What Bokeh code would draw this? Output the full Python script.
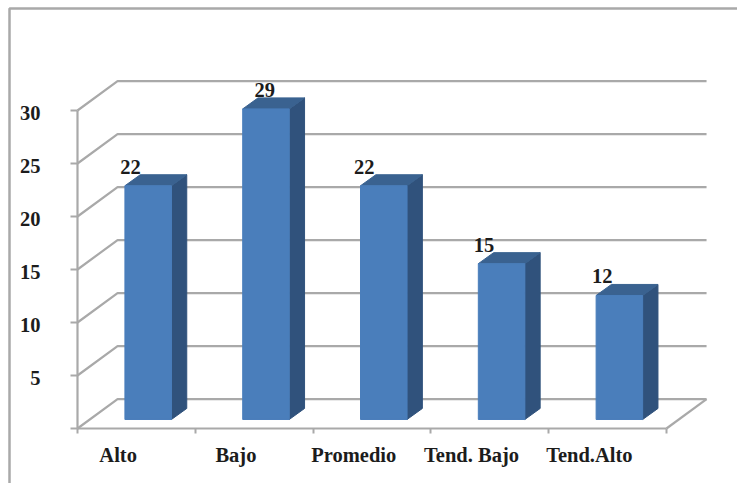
from bokeh.embed import file_html
from bokeh.resources import INLINE
from bokeh.plotting import figure
from bokeh.models import (ColumnDataSource, Range1d, FixedTicker, BoxAnnotation)
from bokeh.core.properties import value

categories = ["Alto", "Bajo", "Promedio", "Tend. Bajo", "Tend.Alto"]
values = [22.05, 29.3, 22.05, 14.7, 11.7]
value_labels = ["22", "29", "22", "15", "12"]
y_ticks = [0, 5, 10, 15, 20, 25, 30]

GRID = "#a9a9a9"
FRONT = "#4a7ebb"
SIDE = "#30527c"
TOP = "#3a6290"
INK = "#1c1c1c"
FONT = "Liberation Serif"
SIZE = "20.5px"

# 3D look, in data units
depth_x, depth_y = 0.34, 2.78          # wall offset of the floor
bar_w = 0.395
bar_center = 0.6
bar_dx, bar_dy = 0.13, 1.04            # bar depth
bar_base = 0.85
label_shift = [-0.15, -0.01, -0.165, -0.15, -0.145]
n = len(categories)

W, H = 737, 483
px_x, px_y = 117.8, 10.6               # pixels per category, per value unit
ox, oy = 77, 428                       # where the axes cross, in pixels

p = figure(width=W, height=H, output_backend="svg", toolbar_location=None,
           x_range=Range1d(-ox / px_x, (W - ox) / px_x),
           y_range=Range1d(-(H - oy) / px_y, oy / px_y),
           min_border_left=0, min_border_right=0, min_border_top=0, min_border_bottom=0,
           background_fill_color="white", border_fill_color="white")
p.outline_line_color = None
p.grid.visible = False

# floor and wall grid lines
for v in y_ticks:
    p.line([0, depth_x, n + depth_x], [v, v + depth_y, v + depth_y], line_color=GRID, line_width=2.2)
p.line([n, n + depth_x], [0, depth_y], line_color=GRID, line_width=2.2)

# bars
cx = [i + bar_center for i in range(n)]
left = [c - bar_w / 2 for c in cx]
right = [c + bar_w / 2 for c in cx]
tops = [bar_base + v for v in values]
p.patches([[r, r + bar_dx, r + bar_dx, r] for r in right],
          [[bar_base, bar_base + bar_dy, t + bar_dy, t] for t in tops],
          fill_color=SIDE, line_color=SIDE)
p.patches([[l, l + bar_dx, r + bar_dx, r] for l, r in zip(left, right)],
          [[t, t + bar_dy, t + bar_dy, t] for t in tops],
          fill_color=TOP, line_color=TOP)
p.quad(left=left, right=right, bottom=bar_base, top=tops, fill_color=FRONT, line_color=FRONT)

# value labels
src = ColumnDataSource(dict(x=[c + s for c, s in zip(cx, label_shift)], y=tops, t=value_labels))
p.text("x", "y", text="t", source=src, y_offset=-19, text_align="center", text_baseline="middle",
       text_font=value(FONT), text_font_style="bold", text_font_size=value(SIZE), text_color=INK)

# axes
xa = p.xaxis[0]
xa.fixed_location = 0
label_pos = [i + 0.345 for i in range(n)]
xa.ticker = FixedTicker(ticks=label_pos, minor_ticks=list(range(n + 1)))
xa.major_label_overrides = dict(zip(label_pos, categories))
xa.bounds = (0, n)
xa.major_tick_line_color = None
xa.major_tick_out = 0
xa.major_tick_in = 0
xa.minor_tick_out = 5
xa.minor_tick_in = 0
xa.minor_tick_line_color = GRID
xa.minor_tick_line_width = 2
xa.major_label_standoff = 10
xa.axis_line_color = GRID
xa.axis_line_width = 2.2
xa.major_label_text_font = FONT
xa.major_label_text_font_style = "bold"
xa.major_label_text_font_size = SIZE
xa.major_label_text_color = INK

ya = p.yaxis[0]
ya.fixed_location = 0
label_ticks = [v - 0.25 for v in y_ticks if v > 0]
ya.ticker = FixedTicker(ticks=label_ticks, minor_ticks=y_ticks)
ya.major_label_overrides = {t: str(v) for t, v in zip(label_ticks, y_ticks[1:])}
ya.bounds = (0, 30)
ya.major_tick_line_color = None
ya.major_tick_out = 0
ya.major_tick_in = 0
ya.minor_tick_out = 7
ya.minor_tick_in = 0
ya.minor_tick_line_color = GRID
ya.minor_tick_line_width = 2
ya.major_label_standoff = 30
ya.axis_line_color = GRID
ya.axis_line_width = 2.2
ya.major_label_text_font = FONT
ya.major_label_text_font_style = "bold"
ya.major_label_text_font_size = SIZE
ya.major_label_text_color = INK

# outer chart frame
p.add_layout(BoxAnnotation(left=9, right=900, top=8, bottom=900,
                           left_units="canvas", right_units="canvas",
                           top_units="canvas", bottom_units="canvas",
                           fill_alpha=0, line_color=GRID, line_alpha=1, line_width=2.5))

open("out.html", "w").write(file_html(p, INLINE))
